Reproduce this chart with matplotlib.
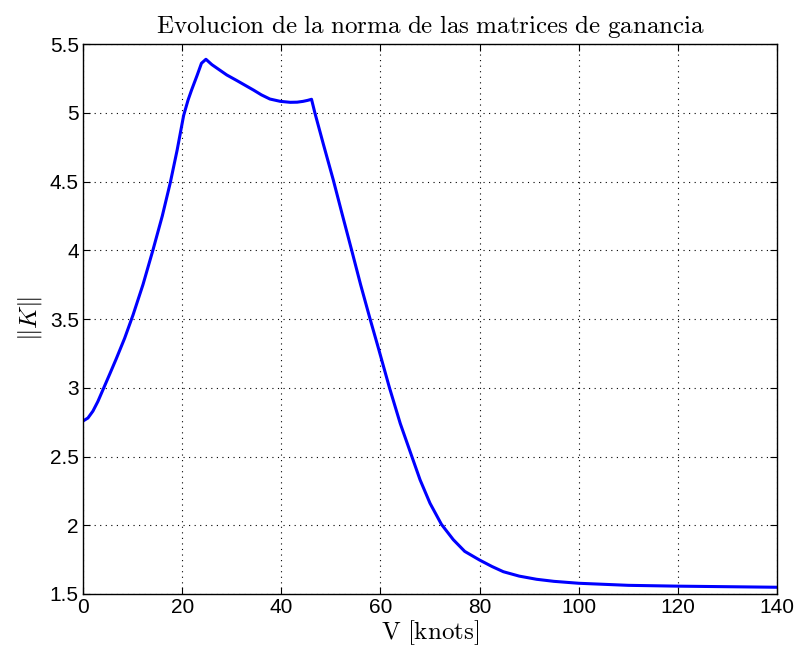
import numpy as np
import matplotlib
matplotlib.use("Agg")
import matplotlib.pyplot as plt

# Valeurs (V en noeuds, norme de K)
V = [0, 1, 2, 3, 4.2, 5.4, 6.7, 8.4, 10.1, 12.1, 14.1, 16, 17.6, 19, 20.3,
     21.2, 21.9, 23, 23.9, 24.8, 26, 27.6, 29, 31, 32.7, 34.4, 36, 37.7,
     39.8, 41.8, 43.2, 44.4, 45.3, 46.1, 46.8, 48.5, 50.5, 52.3, 54.2, 56,
     57.9, 59.6, 61.8, 64, 66.3, 68, 70, 72.3, 74.7, 77, 80, 82.5, 84.8,
     88, 91.5, 95, 100, 110, 120, 130, 140]
K = [2.758, 2.78, 2.83, 2.9, 3.0, 3.1, 3.21, 3.36, 3.53, 3.75, 4.0,
     4.25, 4.49, 4.73, 4.98, 5.093, 5.165, 5.27, 5.36, 5.389, 5.35, 5.31,
     5.275, 5.235, 5.20, 5.165, 5.13, 5.10, 5.083, 5.076, 5.077, 5.083,
     5.09, 5.098, 4.996, 4.77, 4.51, 4.26, 4.0, 3.75, 3.502, 3.287, 3.003,
     2.74, 2.504, 2.33, 2.16, 2.007, 1.895, 1.81, 1.747, 1.70, 1.662,
     1.63, 1.607, 1.592, 1.578, 1.563, 1.557, 1.553, 1.549]

plt.rcParams["mathtext.fontset"] = "cm"
plt.rcParams["font.family"] = ["Liberation Sans", "DejaVu Sans"]

fig = plt.figure(figsize=(7.98, 6.57), dpi=100)
ax = fig.add_axes([0.104, 0.0959, 0.8697, 0.8371])

ax.plot(V, K, color="#0000ff", linewidth=2.2)

ax.set_xlim(0, 140)
ax.set_ylim(1.5, 5.5)
ax.set_xticks(np.arange(0, 141, 20))
ax.set_yticks(np.arange(1.5, 5.51, 0.5))
ax.set_yticklabels(["1.5", "2", "2.5", "3", "3.5", "4", "4.5", "5", "5.5"])
ax.tick_params(direction="in", top=True, right=True, labelsize=15, length=5,
               width=0.8, pad=3)
ax.grid(True, color="black", linestyle=(0, (1, 4)), linewidth=0.8)
for s in ax.spines.values():
    s.set_linewidth(1.0)

ax.set_title(r"$\mathrm{Evolucion\ de\ la\ norma\ de\ las\ matrices\ de\ ganancia}$",
             fontsize=18, pad=8)
ax.set_xlabel(r"$\mathrm{V\ [knots]}$", fontsize=18, labelpad=1)
ax.set_ylabel(r"$\|K\|$", fontsize=18, labelpad=4)

fig.savefig("out.png", dpi=100)
